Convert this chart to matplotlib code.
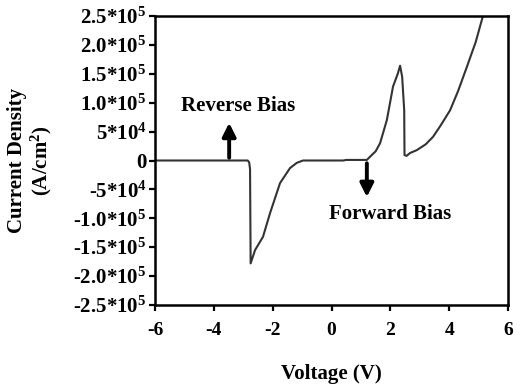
import matplotlib
matplotlib.use("Agg")
import matplotlib.pyplot as plt

plt.rcParams['font.family'] = ['Liberation Serif', 'DejaVu Serif']
plt.rcParams['font.weight'] = 'bold'
plt.rcParams['mathtext.fontset'] = 'custom'
plt.rcParams['mathtext.rm'] = 'Liberation Serif:bold'
plt.rcParams['mathtext.bf'] = 'Liberation Serif:bold'
plt.rcParams['mathtext.default'] = 'bf'

# data
voltage = [-6.0, -2.85, -2.80, -2.77, -2.75, -2.60, -2.33, -2.09, -1.75, -1.41,
           -1.18, -0.97, 0.40, 0.50, 1.20, 1.31, 1.50, 1.65, 1.88, 2.09,
           2.25, 2.33, 2.40, 2.47, 2.48, 2.55, 2.67, 2.90, 3.20, 3.45,
           3.70, 4.03, 4.30, 4.60, 4.90, 5.14]
current = [0, 0, -3e3, -1.5e4, -1.78e5, -1.55e5, -1.32e5, -9.1e4, -3.9e4, -1.3e4,
           -4e3, 0, 0, 1e3, 1e3, 6.6e3, 1.6e4, 3e4, 7e4, 1.28e5,
           1.5e5, 1.64e5, 1.45e5, 8.7e4, 9.5e3, 8e3, 1.3e4, 1.8e4, 2.8e4, 4.1e4,
           6e4, 8.7e4, 1.2e5, 1.62e5, 2.05e5, 2.49e5]

xticks = [-6, -4, -2, 0, 2, 4, 6]
yticks = [2.5e5, 2.0e5, 1.5e5, 1.0e5, 5e4, 0, -5e4, -1.0e5, -1.5e5, -2.0e5, -2.5e5]
ytick_labels = ['2.5*10$^5$', '2.0*10$^5$', '1.5*10$^5$', '1.0*10$^5$', '5*10$^4$', '0',
                '-5*10$^4$', '-1.0*10$^5$', '-1.5*10$^5$', '-2.0*10$^5$', '-2.5*10$^5$']

fig = plt.figure(figsize=(5.32, 3.91), dpi=100)
ax = fig.add_axes([0.2914, 0.22, 0.6636, 0.739])

ax.plot(voltage, current, color='#333333', lw=1.5)

ax.set_xlim(-6, 6)
ax.set_ylim(-2.5e5, 2.5e5)
ax.set_xticks(xticks)
ax.set_xticklabels([str(t) for t in xticks])
ax.set_yticks(yticks)
ax.set_yticklabels(ytick_labels)
ax.tick_params(labelsize=14, width=1.6, length=4, pad=2)
ax.tick_params(axis='y', labelsize=15)
ax.tick_params(axis='x', pad=8)
for s in ax.spines.values():
    s.set_linewidth(1.8)

ax.set_xlabel('Voltage (V)', fontsize=15, fontweight='bold')
ax.xaxis.set_label_coords(0.5, -0.205)
ax.set_ylabel('Current Density\n(A/cm$^2$)', fontsize=15, fontweight='bold', linespacing=1.1)
ax.yaxis.set_label_coords(-0.285, 0.5)

ax.annotate('', xy=(-3.48, 7e4), xytext=(-3.48, 0),
            arrowprops=dict(arrowstyle='-|>', color='black', lw=2.8, mutation_scale=20))
ax.text(-3.17, 9.5e4, 'Reverse Bias', ha='center', va='center', fontsize=15, fontweight='bold')
ax.annotate('', xy=(1.2, -6.8e4), xytext=(1.2, 0),
            arrowprops=dict(arrowstyle='-|>', color='black', lw=2.8, mutation_scale=20))
ax.text(2.0, -9.2e4, 'Forward Bias', ha='center', va='center', fontsize=15, fontweight='bold')

fig.savefig('out.png', dpi=100)
